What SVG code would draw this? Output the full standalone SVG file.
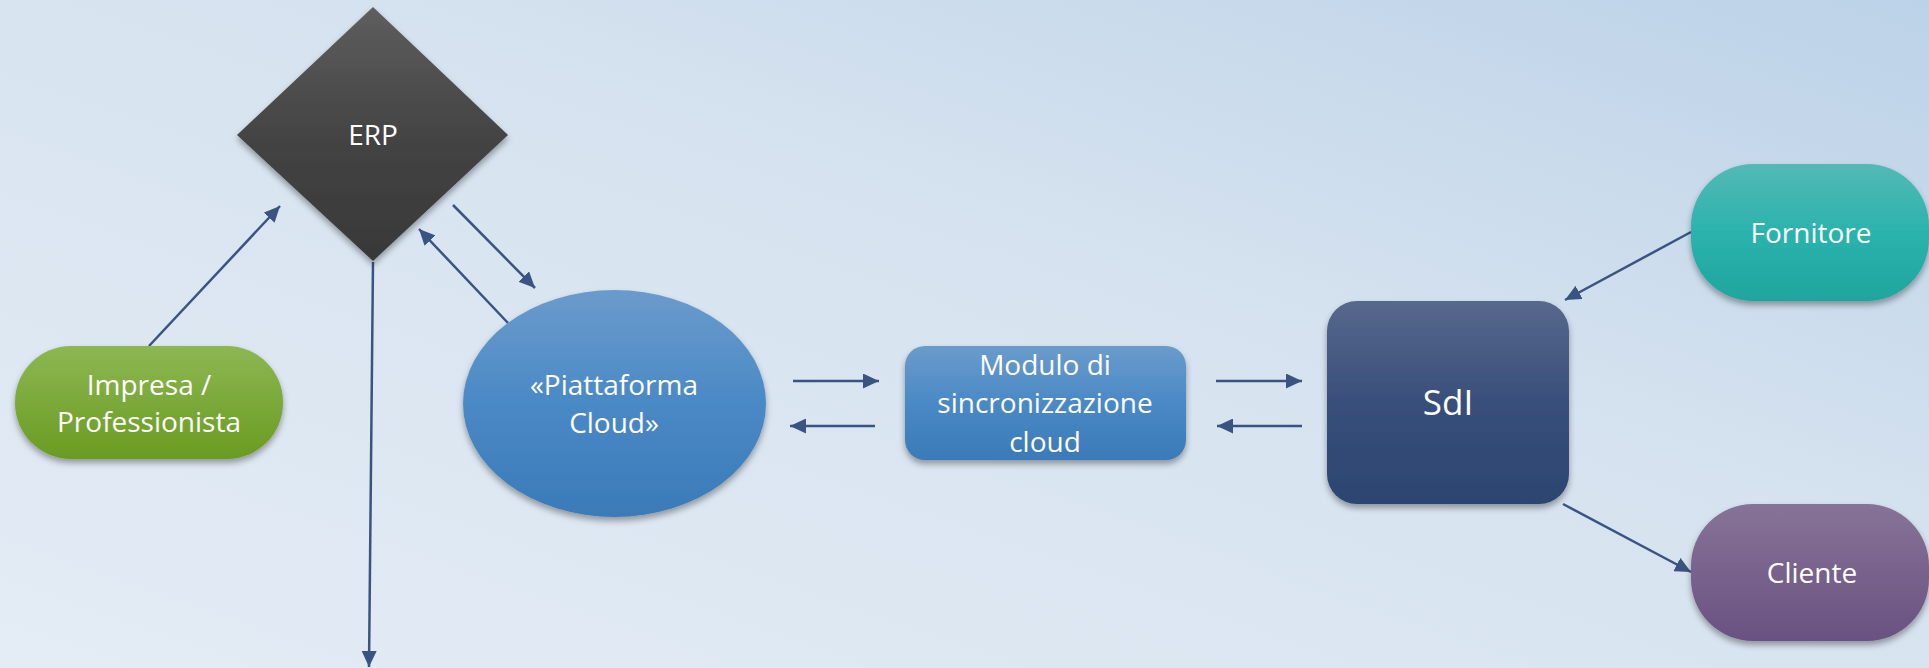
<svg xmlns="http://www.w3.org/2000/svg" width="1929" height="668" viewBox="0 0 1929 668">
<defs>
<linearGradient id="bg" x1="0" y1="1" x2="1" y2="0">
<stop offset="0" stop-color="#e4ecf5"/>
<stop offset="0.6" stop-color="#d5e2ef"/>
<stop offset="1" stop-color="#bcd2e8"/>
</linearGradient>
<linearGradient id="gErp" x1="0" y1="0" x2="0" y2="1"><stop offset="0" stop-color="#5e5e5e"/><stop offset="0.5" stop-color="#444"/><stop offset="1" stop-color="#383838"/></linearGradient>
<linearGradient id="gGreen" x1="0" y1="0" x2="0" y2="1"><stop offset="0" stop-color="#8db752"/><stop offset="1" stop-color="#6a9b22"/></linearGradient>
<linearGradient id="gBlue" x1="0" y1="0" x2="0" y2="1"><stop offset="0" stop-color="#6b9bcb"/><stop offset="0.5" stop-color="#4a89c6"/><stop offset="1" stop-color="#3b7ab8"/></linearGradient>
<linearGradient id="gSdi" x1="0" y1="0" x2="0" y2="1"><stop offset="0" stop-color="#57688c"/><stop offset="0.5" stop-color="#384f7b"/><stop offset="1" stop-color="#2c4570"/></linearGradient>
<linearGradient id="gTeal" x1="0" y1="0" x2="0" y2="1"><stop offset="0" stop-color="#54b9b5"/><stop offset="0.5" stop-color="#2bb3ad"/><stop offset="1" stop-color="#1fa59d"/></linearGradient>
<linearGradient id="gPurple" x1="0" y1="0" x2="0" y2="1"><stop offset="0" stop-color="#877397"/><stop offset="1" stop-color="#6a5181"/></linearGradient>
<filter id="sh" x="-10%" y="-10%" width="120%" height="130%">
<feDropShadow dx="0" dy="4" stdDeviation="3" flood-color="#000" flood-opacity="0.35"/>
</filter>
<marker id="ah" markerUnits="userSpaceOnUse" markerWidth="16" markerHeight="15" refX="16" refY="7.5" orient="auto">
<path d="M0,0 L16,7.5 L0,15 z" fill="#3a5482"/>
</marker>
</defs>
<style>
.t{font-family:"Open Sans","Noto Sans",sans-serif;fill:#ffffff;text-anchor:middle;font-size:28px}
.c{stroke:#3a5482;stroke-width:2.5;fill:none;marker-end:url(#ah)}
</style>
<rect x="0" y="0" width="1929" height="668" fill="url(#bg)"/>
<g id="connectors">
<line class="c" x1="149" y1="346" x2="280" y2="206"/>
<line class="c" x1="453" y1="205" x2="535" y2="288"/>
<line class="c" x1="508" y1="323" x2="419" y2="229"/>
<line class="c" x1="373" y1="262" x2="369" y2="667"/>
<line class="c" x1="793" y1="381" x2="879" y2="381"/>
<line class="c" x1="875" y1="426" x2="790" y2="426"/>
<line class="c" x1="1216" y1="381" x2="1302" y2="381"/>
<line class="c" x1="1302" y1="426" x2="1217" y2="426"/>
<line class="c" x1="1691" y1="232" x2="1565" y2="300"/>
<line class="c" x1="1563" y1="504" x2="1691" y2="572"/>
</g>
<g id="erp">
<path d="M373,7 L508,135 L373,261 L237,135 z" fill="url(#gErp)" filter="url(#sh)"/>
<text class="t" x="373" y="145">ERP</text>
</g>
<g id="impresa">
<rect x="15" y="346" width="268" height="113" rx="56" ry="56" fill="url(#gGreen)" filter="url(#sh)"/>
<text class="t" x="149" y="395">Impresa /</text>
<text class="t" x="149" y="432">Professionista</text>
</g>
<g id="cloud">
<ellipse cx="614.5" cy="403.5" rx="151.5" ry="113.5" fill="url(#gBlue)" filter="url(#sh)"/>
<text class="t" x="614" y="395">«Piattaforma</text>
<text class="t" x="614" y="433">Cloud»</text>
</g>
<g id="modulo">
<rect x="905" y="346" width="281" height="114" rx="20" ry="20" fill="url(#gBlue)" filter="url(#sh)"/>
<text class="t" x="1045" y="375">Modulo di</text>
<text class="t" x="1045" y="413">sincronizzazione</text>
<text class="t" x="1045" y="452">cloud</text>
</g>
<g id="sdi">
<rect x="1327" y="301" width="242" height="203" rx="30" ry="30" fill="url(#gSdi)" filter="url(#sh)"/>
<text class="t" x="1448" y="415" style="font-size:35px">SdI</text>
</g>
<g id="fornitore">
<rect x="1691" y="164" width="238" height="137" rx="62" ry="62" fill="url(#gTeal)" filter="url(#sh)"/>
<text class="t" x="1811" y="243">Fornitore</text>
</g>
<g id="cliente">
<rect x="1691" y="504" width="238" height="137" rx="62" ry="62" fill="url(#gPurple)" filter="url(#sh)"/>
<text class="t" x="1812" y="583">Cliente</text>
</g>
</svg>
